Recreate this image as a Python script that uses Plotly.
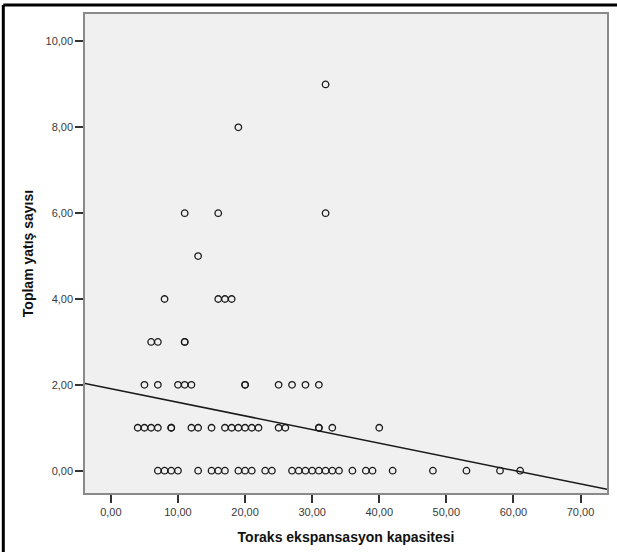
import plotly.graph_objects as go

# Chest expansion capacity (x) and total number of hospitalisations (y)
expansion_capacity = [
    32,
    19,
    11, 16, 32,
    13,
    8, 16, 17, 18,
    6, 7, 11, 11,
    5, 7, 10, 11, 12, 20, 20, 25, 27, 29, 31,
    4, 5, 6, 7, 9, 9, 12, 13, 15, 17, 18, 19, 20, 21, 22, 25, 26, 31, 31, 33, 40,
    7, 8, 9, 10, 13, 15, 16, 17, 19, 20, 21, 23, 24, 27, 28, 29, 30, 31, 32, 33,
    34, 36, 38, 39, 42, 48, 53, 58, 61,
]
hospitalisations = (
    [9]
    + [8]
    + [6] * 3
    + [5]
    + [4] * 4
    + [3] * 4
    + [2] * 11
    + [1] * 21
    + [0] * 29
)

# Linear fit line (intercept, slope)
fit_intercept = 1.91
fit_slope = -0.0317

x_range = [-3.86, 73.95]
y_range = [-0.52, 10.64]

x_ticks = [0, 10, 20, 30, 40, 50, 60, 70]
x_tick_labels = ["0,00", "10,00", "20,00", "30,00", "40,00", "50,00", "60,00", "70,00"]
y_ticks = [0, 2, 4, 6, 8, 10]
y_tick_labels = ["0,00", "2,00", "4,00", "6,00", "8,00", "10,00"]

fit_x = list(x_range)
fit_y = [fit_intercept + fit_slope * v for v in fit_x]

fig = go.Figure()
fig.add_trace(go.Scatter(
    x=fit_x, y=fit_y, mode="lines",
    line=dict(color="#1a1a1a", width=1.5),
    hoverinfo="skip", showlegend=False,
))
fig.add_trace(go.Scatter(
    x=expansion_capacity, y=hospitalisations, mode="markers",
    marker=dict(symbol="circle-open", size=6.5, color="#1a1a1a",
                line=dict(width=1.3, color="#1a1a1a")),
    showlegend=False,
))

axis_common = dict(
    showgrid=False, zeroline=False,
    showline=True, linecolor="#8a8a8a", linewidth=1.5, mirror=True,
    ticks="outside", ticklen=8, tickwidth=1.5, tickcolor="#333333",
    tickfont=dict(family="Liberation Sans, Arial, sans-serif", size=11, color="#3a3a3a"),
)

fig.update_xaxes(
    range=x_range, tickvals=x_ticks, ticktext=x_tick_labels,
    title=dict(text="<b>Toraks ekspansasyon kapasitesi</b>", standoff=15,
               font=dict(family="Liberation Sans, Arial, sans-serif", size=14, color="#111111")),
    **axis_common,
)
fig.update_yaxes(
    range=y_range, tickvals=y_ticks, ticktext=y_tick_labels,
    title=dict(text="<b>Toplam yatış sayısı</b>", standoff=9,
               font=dict(family="Liberation Sans, Arial, sans-serif", size=14, color="#111111")),
    **axis_common,
)

# Outer frame: top and left edges of the chart box
fig.add_shape(type="line", xref="paper", yref="paper",
              x0=-0.1565, x1=1.02, y0=1.0188, y1=1.0188,
              line=dict(color="black", width=3))
fig.add_shape(type="line", xref="paper", yref="paper",
              x0=-0.1565, x1=-0.1565, y0=-0.13, y1=1.0188,
              line=dict(color="black", width=3))

fig.update_layout(
    width=617, height=552,
    margin=dict(l=85, r=8, t=14, b=59),
    plot_bgcolor="#f0f0f0", paper_bgcolor="white",
    font=dict(family="Liberation Sans, Arial, sans-serif"),
)

fig.write_html("out.html")
